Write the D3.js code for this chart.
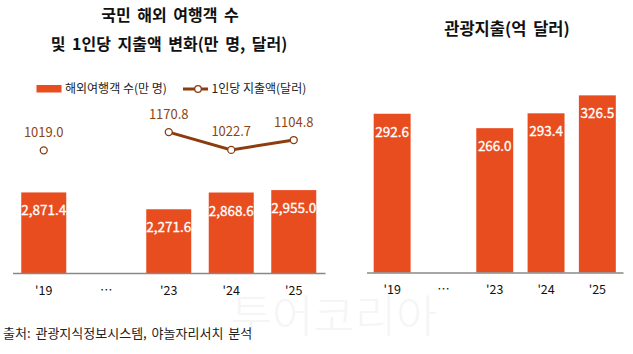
<!DOCTYPE html>
<html>
<head>
<meta charset="utf-8">
<script src="https://cdn.jsdelivr.net/npm/d3@7"></script>
<style>
  body { margin: 0; background: #fff; }
  svg text { font-family: "Noto Sans CJK KR", "Noto Sans", sans-serif; }
</style>
</head>
<body>
<svg id="chart" width="633" height="354"></svg>
<script>
// data
var years = ["'19", "…", "'23", "'24", "'25"];
var travelers = [2871.4, null, 2271.6, 2868.6, 2955.0];   // 만 명
var perCapita = [1019.0, null, 1170.8, 1022.7, 1104.8];    // 달러
var spending = [292.6, null, 266.0, 293.4, 326.5];         // 억 달러

var barColor = "#e84d20",
    lineColor = "#8b3d10",
    labelBrown = "#8b4516";

var svg = d3.select("#chart");

// left chart scales
var xL = d3.scaleBand().domain(years).range([12.5, 325]).paddingInner(0.28).paddingOuter(0.14);
var yL = d3.scaleLinear().domain([0, 3500]).range([273, 174.8]);
var yL2 = d3.scaleLinear().domain([0, 1400]).range([273, 104.5]);

// right chart scales
var xR = d3.scaleBand().domain(years).range([366.5, 623]).paddingInner(0.28).paddingOuter(0.14);
var yR = d3.scaleLinear().domain([0, 350]).range([272.5, 82.6]);

// watermark
svg.append("text")
    .attr("x", 334).attr("y", 333)
    .attr("text-anchor", "middle")
    .attr("font-size", 45)
    .attr("font-weight", 300)
    .attr("fill", "#f5f5f5")
    .text("투어코리아");

// titles
function title(x, y, size, txt) {
    svg.append("text").attr("x", x).attr("y", y).attr("text-anchor", "middle")
        .attr("font-size", size).attr("font-weight", "bold").attr("fill", "#111")
        .attr("word-spacing", 3)
        .text(txt);
}
title(170, 21, 16, "국민 해외 여행객 수");
title(169, 50, 16, "및 1인당 지출액 변화(만 명, 달러)");
title(507, 35, 16.5, "관광지출(억 달러)");

// legend
var lg = svg.append("g");
lg.append("rect").attr("x", 36.5).attr("y", 85).attr("width", 25).attr("height", 7.5).attr("fill", barColor);
lg.append("text").attr("x", 65).attr("y", 93).attr("font-size", 12).attr("fill", "#222").text("해외여행객 수(만 명)");
lg.append("line").attr("x1", 183).attr("x2", 208).attr("y1", 89).attr("y2", 89)
    .attr("stroke", lineColor).attr("stroke-width", 3);
lg.append("circle").attr("cx", 198).attr("cy", 89).attr("r", 3.3)
    .attr("fill", "#fff").attr("stroke", lineColor).attr("stroke-width", 1.3);
lg.append("text").attr("x", 211.5).attr("y", 93).attr("font-size", 12).attr("fill", "#222").text("1인당 지출액(달러)");

function drawPanel(x, y, values, fmt, baseline) {
    var data = years.map(function (d, i) { return {year: d, v: values[i]}; });
    var g = svg.append("g");

    g.selectAll(".bar")
        .data(data.filter(function (d) { return d.v !== null; }))
        .enter().append("rect")
        .attr("class", "bar")
        .attr("x", function (d) { return x(d.year); })
        .attr("y", function (d) { return y(d.v); })
        .attr("width", x.bandwidth())
        .attr("height", function (d) { return y(0) - y(d.v); })
        .attr("fill", barColor);

    g.selectAll(".barlabel")
        .data(data.filter(function (d) { return d.v !== null; }))
        .enter().append("text")
        .attr("class", "barlabel")
        .attr("x", function (d) { return x(d.year) + x.bandwidth() / 2; })
        .attr("y", function (d) { return y(d.v) + 23; })
        .attr("text-anchor", "middle")
        .attr("font-size", 13.5)
        .attr("fill", "#fff")
        .attr("stroke", "#fff")
        .attr("stroke-width", 0.3)
        .text(function (d) { return fmt(d.v); });

    var axis = g.append("g")
        .attr("transform", "translate(0," + baseline + ")")
        .call(d3.axisBottom(x).tickSize(0).tickPadding(13));
    axis.select(".domain").attr("stroke", "#888").attr("stroke-width", 1.3);
    axis.selectAll("text")
        .attr("font-size", 12.5)
        .attr("fill", "#111")
        .style("font-family", "'Noto Sans CJK KR', sans-serif");
}

drawPanel(xL, yL, travelers, d3.format(",.1f"), 273);
drawPanel(xR, yR, spending, d3.format(".1f"), 272.5);

// per-capita line (left chart)
var pts = years.map(function (d, i) { return {year: d, v: perCapita[i]}; })
    .filter(function (d) { return d.v !== null; });
var cx = function (d) { return xL(d.year) + xL.bandwidth() / 2; };

svg.append("path")
    .datum(pts.slice(1))
    .attr("fill", "none")
    .attr("stroke", lineColor)
    .attr("stroke-width", 3)
    .attr("d", d3.line().x(cx).y(function (d) { return yL2(d.v); }));

svg.selectAll(".dot")
    .data(pts)
    .enter().append("circle")
    .attr("class", "dot")
    .attr("cx", cx)
    .attr("cy", function (d) { return yL2(d.v); })
    .attr("r", 3.5)
    .attr("fill", "#fff")
    .attr("stroke", lineColor)
    .attr("stroke-width", 1.3);

svg.selectAll(".linelabel")
    .data(pts)
    .enter().append("text")
    .attr("class", "linelabel")
    .attr("x", cx)
    .attr("y", function (d) { return yL2(d.v) - 13.5; })
    .attr("text-anchor", "middle")
    .attr("font-size", 13)
    .attr("fill", labelBrown)
    .text(function (d) { return d3.format(".1f")(d.v); });

// source
svg.append("text").attr("x", 3).attr("y", 337.5).attr("font-size", 13).attr("fill", "#222")
    .attr("word-spacing", 2)
    .text("출처: 관광지식정보시스템, 야놀자리서치 분석");
</script>
</body>
</html>
